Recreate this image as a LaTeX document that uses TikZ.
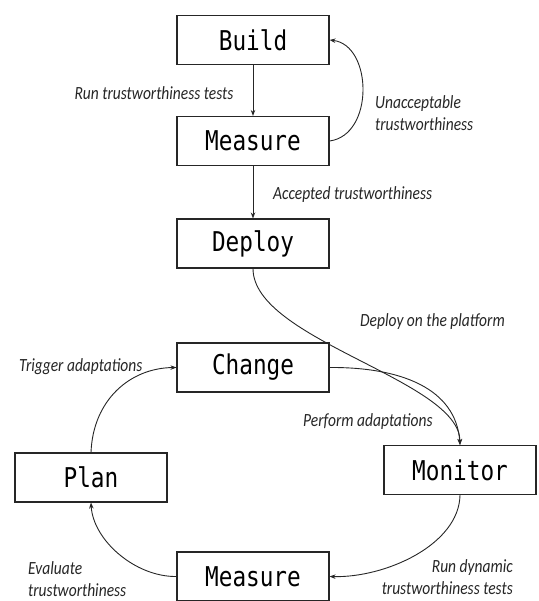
\documentclass[tikz,border=0pt]{standalone}
\usepackage{fontspec}
\usepackage{graphicx}
\newfontfamily\lblfont{Carlito}
\newfontfamily\boxfont{DejaVu Sans Mono}
\usetikzlibrary{arrows.meta}
\newcommand{\vstretch}[1]{\scalebox{1}[1.2]{#1}}
\begin{document}
\begin{tikzpicture}[x=1pt,y=-1pt,
  stage/.style={draw=black!85, line width=1.1pt, minimum width=152pt, minimum height=49pt, inner sep=0pt, font=\boxfont\fontsize{22.7}{26}\selectfont},
  lbl/.style={inner sep=0pt, text=black!85, font=\lblfont\itshape\fontsize{15.5}{19}\selectfont},
  conn/.style={draw=black!85, line width=0.9pt, -{Stealth[length=6pt,width=4.5pt]}}]
\useasboundingbox (0,0) rectangle (538,601);

\node[stage] (build) at (253,40) {\vstretch{Build}};
\node[stage] (meas1) at (253,141) {\vstretch{Measure}};
\node[stage] (deploy) at (253,243.5) {\vstretch{Deploy}};
\node[stage] (change) at (253,367.5) {\vstretch{Change}};
\node[stage] (plan) at (91,477.5) {\vstretch{Plan}};
\node[stage] (monitor) at (460,470) {\vstretch{Monitor}};
\node[stage] (meas2) at (253,576.5) {\vstretch{Measure}};

\draw[conn] (build) -- (meas1);
\draw[conn] (meas1.east) .. controls +(45,-6) and +(43,5) .. (build.east);
\draw[conn] (meas1) -- (deploy);
\draw[conn] (deploy.south) .. controls (253,340) and (460,380) .. (monitor.north);
\draw[conn] (change.east) .. controls (400,367) and (456,388) .. (monitor.north);
\draw[conn] (monitor.south) .. controls (459,545) and (385,578) .. (meas2.east);
\draw[conn] (meas2.west) .. controls (135,577) and (93,540) .. (plan.south);
\draw[conn] (plan.north) .. controls (93,400) and (130,368) .. (change.west);

\node[lbl] (l1) at (154,93) {\vstretch{Run trustworthiness tests}};
\node[lbl, anchor=west] (l2) at (375,115) {\vstretch{\begin{tabular}{@{}l@{}}Unacceptable\\trustworthiness\end{tabular}}};
\node[lbl, anchor=west] (l3) at (273,195) {\vstretch{Accepted trustworthiness}};
\node[lbl, anchor=west] (l4) at (360,322) {\vstretch{Deploy on the platform}};
\node[lbl, anchor=west] (l5) at (19,367) {\vstretch{Trigger adaptations}};
\node[lbl, anchor=west] (l6) at (303,422) {\vstretch{Perform adaptations}};
\node[lbl, anchor=west] (l7) at (28,581) {\vstretch{\begin{tabular}{@{}l@{}}Evaluate\\trustworthiness\end{tabular}}};
\node[lbl, anchor=east] (l8) at (513,579) {\vstretch{\begin{tabular}{@{}r@{}}Run dynamic\\trustworthiness tests\end{tabular}}};
\end{tikzpicture}
\end{document}
